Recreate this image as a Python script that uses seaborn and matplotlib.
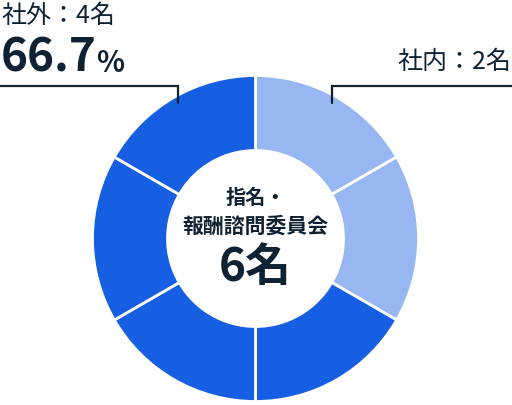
import matplotlib
matplotlib.use('Agg')
import matplotlib.pyplot as plt
import seaborn as sns

# --- データ ---
groups = ['社内', '社外']
group_counts = [2, 4]
group_colors = ['#97B6F2', '#165FE3']
total_label = '6名'
committee_lines = ['指名・', '報酬諮問委員会']
outside_share = '66.7'

# 1人 = 1セグメント
seg_values = []
seg_colors = []
for n, c in zip(group_counts, group_colors):
    seg_values += [1] * n
    seg_colors += [c] * n

sns.set_theme(style='white')
plt.rcParams['font.family'] = ['Noto Sans CJK JP', 'DejaVu Sans']

TXT = '#0F2233'
W, H = 512, 406

fig = plt.figure(figsize=(W / 100, H / 100), dpi=100)
ax = fig.add_axes([0, 0, 1, 1])
ax.set_xlim(0, W)
ax.set_ylim(0, H)
ax.set_aspect('equal')
ax.axis('off')

cx, cy = 255.5, H - 239.5
r_out, r_in = 163, 88
ax.pie(seg_values, colors=seg_colors, center=(cx, cy), radius=r_out,
       startangle=90, counterclock=False,
       wedgeprops=dict(width=r_out - r_in, edgecolor='white', linewidth=2))
ax.set_xlim(0, W)
ax.set_ylim(0, H)

# 中央テキスト
ax.text(cx, H - 197, committee_lines[0], ha='center', va='center',
        fontsize=14.5, fontweight='bold', color=TXT)
ax.text(cx, H - 226, committee_lines[1], ha='center', va='center',
        fontsize=15, fontweight='bold', color=TXT)
ax.text(cx, H - 268, total_label, ha='center', va='center',
        fontsize=33, fontweight='bold', color=TXT)

# 社外ラベル（左上）
ax.text(1, H - 16, f'{groups[1]}：{group_counts[1]}名', ha='left', va='center',
        fontsize=18, color=TXT)
ax.text(1, H - 72, outside_share, ha='left', va='baseline',
        fontsize=33, fontweight='bold', color=TXT)
ax.text(96, H - 72, '%', ha='left', va='baseline',
        fontsize=21, fontweight='bold', color=TXT)
ax.plot([0, 178, 178], [H - 87, H - 87, H - 104], color=TXT, lw=1.6,
        solid_joinstyle='miter')

# 社内ラベル（右上）
ax.text(511, H - 62, f'{groups[0]}：{group_counts[0]}名', ha='right', va='center',
        fontsize=18, color=TXT)
ax.plot([W, 332, 332], [H - 87, H - 87, H - 104], color=TXT, lw=1.6,
        solid_joinstyle='miter')

fig.savefig('out.png', dpi=100)
